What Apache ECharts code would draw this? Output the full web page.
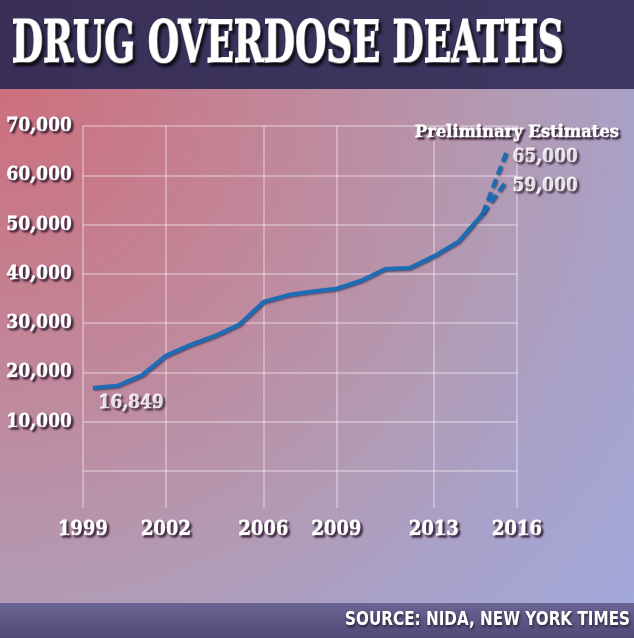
<!DOCTYPE html>
<html>
<head>
<meta charset="utf-8">
<script src="https://cdn.jsdelivr.net/npm/echarts@6/dist/echarts.min.js"></script>
<style>
  html, body { margin: 0; padding: 0; }
  #chart { width: 634px; height: 638px; }
</style>
</head>
<body>
<div id="chart"></div>
<script>
// 数据：年度药物过量死亡人数
const years = [1999, 2000, 2001, 2002, 2003, 2004, 2005, 2006, 2007, 2008, 2009, 2010, 2011, 2012, 2013, 2014, 2015];
const deaths = [16849, 17300, 19400, 23400, 25600, 27400, 29700, 34300, 35700, 36400, 37000, 38600, 41000, 41200, 43600, 46500, 52200];
// 2016 初步估计（上限 / 下限）
const estimateYear = 2016;
const estimates = [65000, 59000];
// 坐标轴刻度
const yearTicks = [1999, 2002, 2006, 2009, 2013, 2016];
const yMax = 70000;
const yStep = 10000;

const title = 'DRUG OVERDOSE DEATHS';
const note = 'Preliminary Estimates';
const source = 'SOURCE: NIDA, NEW YORK TIMES';

// 折线两端与边框留一点空
const X_MIN = 1998.59;
const X_MAX = 2016.41;
const tickValues = yearTicks.map((y, i) => (i === 0 ? X_MIN : i === yearTicks.length - 1 ? X_MAX : y));

const serif = '"DejaVu Serif Condensed", "DejaVu Serif", serif';
const sans = '"DejaVu Sans Condensed", "DejaVu Sans", sans-serif';
// 白字加粗描边 + 深色投影
const shadow = {
  textBorderColor: '#fff',
  textBorderWidth: 0.8,
  textShadowColor: 'rgba(40,15,40,0.85)',
  textShadowBlur: 2,
  textShadowOffsetX: 2,
  textShadowOffsetY: 2
};
const gridColor = 'rgba(255,255,255,0.32)';
const lineColor = '#1d6db5';
const lineShadow = { shadowColor: 'rgba(20,20,60,0.6)', shadowBlur: 2, shadowOffsetX: 1, shadowOffsetY: 1 };

// 用画布量文字宽度，算横向压缩比例
function fitScale(text, font, width) {
  const ctx = document.createElement('canvas').getContext('2d');
  ctx.font = font;
  return width / ctx.measureText(text).width;
}

const chart = echarts.init(document.getElementById('chart'), null, { renderer: 'canvas' });

const mainLine = years.map((y, i) => [y, deaths[i]]);
const last = mainLine[mainLine.length - 1];

const titleFont = 'bold 58px ' + serif;
const noteFont = 'bold 17px ' + serif;
const sourceFont = 'bold 19px ' + sans;

chart.setOption({
  animation: false,
  grid: { left: 83, right: 117, top: 126, bottom: 167 },
  xAxis: {
    type: 'value',
    min: X_MIN,
    max: X_MAX,
    axisLine: { show: false },
    axisTick: {
      show: true,
      customValues: tickValues,
      length: 37,
      lineStyle: { color: gridColor, width: 2 }
    },
    splitLine: { show: true, lineStyle: { color: gridColor, width: 2 } },
    axisLabel: {
      customValues: tickValues,
      formatter: v => String(Math.round(v)),
      margin: 49,
      color: '#fff',
      fontFamily: serif,
      fontWeight: 'bold',
      fontSize: 20,
      ...shadow
    }
  },
  yAxis: {
    type: 'value',
    min: 0,
    max: yMax,
    interval: yStep,
    axisLine: { show: false },
    axisTick: { show: false },
    splitLine: { show: true, lineStyle: { color: gridColor, width: 2 } },
    axisLabel: {
      formatter: v => (v === 0 ? '' : v.toLocaleString('en-US')),
      margin: 11,
      color: '#fff',
      fontFamily: serif,
      fontWeight: 'bold',
      fontSize: 19,
      ...shadow
    }
  },
  series: [
    {
      type: 'line',
      data: mainLine,
      symbol: 'none',
      z: 5,
      lineStyle: { color: lineColor, width: 4, ...lineShadow }
    },
    ...estimates.map(v => ({
      type: 'line',
      data: [last, [estimateYear, v]],
      symbol: 'none',
      z: 5,
      lineStyle: { color: lineColor, width: 4, type: [9, 5], ...lineShadow }
    })),
    {
      // 起点数值标注
      type: 'scatter',
      data: [mainLine[0]],
      symbolSize: 1,
      itemStyle: { color: 'rgba(0,0,0,0)' },
      z: 6,
      label: {
        show: true,
        position: [6, 6],
        align: 'left',
        verticalAlign: 'top',
        formatter: p => p.value[1].toLocaleString('en-US'),
        color: '#fff', fontFamily: serif, fontWeight: 'bold', fontSize: 19,
        ...shadow
      }
    },
    {
      // 估计值标注
      type: 'scatter',
      data: estimates.map(v => [estimateYear, v]),
      symbolSize: 1,
      itemStyle: { color: 'rgba(0,0,0,0)' },
      z: 6,
      label: {
        show: true,
        position: 'right',
        distance: 5,
        offset: [0, 6],
        formatter: p => p.value[1].toLocaleString('en-US'),
        color: '#fff', fontFamily: serif, fontWeight: 'bold', fontSize: 19,
        ...shadow
      }
    }
  ],
  graphic: [
    {
      type: 'rect', z: -20, silent: true,
      shape: { x: 0, y: 0, width: 634, height: 638 },
      style: {
        fill: {
          type: 'radial', x: 0, y: 89, r: 816, global: true,
          colorStops: [
            { offset: 0, color: '#cd6f7c' },
            { offset: 0.35, color: '#c1879a' },
            { offset: 0.63, color: '#b29bb5' },
            { offset: 0.78, color: '#a9a1c8' },
            { offset: 1, color: '#a2a8da' }
          ]
        }
      }
    },
    {
      type: 'rect', z: -19, silent: true,
      shape: { x: 0, y: 0, width: 634, height: 89 },
      style: {
        fill: {
          type: 'linear', x: 0, y: 0, x2: 1, y2: 0,
          colorStops: [{ offset: 0, color: '#392f57' }, { offset: 1, color: '#3f3762' }]
        }
      }
    },
    {
      type: 'rect', z: -19, silent: true,
      shape: { x: 0, y: 603, width: 634, height: 35 },
      style: {
        fill: {
          type: 'linear', x: 0, y: 0, x2: 0, y2: 1,
          colorStops: [{ offset: 0, color: '#6a6593' }, { offset: 1, color: '#4f4977' }]
        }
      }
    },
    {
      type: 'text', z: 10, silent: true,
      x: 12, y: 47,
      scaleX: fitScale(title, titleFont, 552),
      style: {
        text: title, fill: '#fff', font: titleFont,
        verticalAlign: 'middle',
        stroke: '#fff', lineWidth: 2,
        textShadowColor: 'rgba(0,0,0,0.75)', textShadowBlur: 3, textShadowOffsetX: 2, textShadowOffsetY: 3
      }
    },
    {
      type: 'text', z: 10, silent: true,
      x: 415, y: 133,
      scaleX: fitScale(note, noteFont, 204),
      style: {
        text: note, fill: '#fff', font: noteFont,
        verticalAlign: 'middle',
        stroke: '#fff', lineWidth: 0.8,
        textShadowColor: 'rgba(40,15,40,0.85)', textShadowBlur: 2, textShadowOffsetX: 2, textShadowOffsetY: 2
      }
    },
    {
      type: 'text', z: 10, silent: true,
      x: 345, y: 620,
      scaleX: fitScale(source, sourceFont, 285),
      style: {
        text: source, fill: '#fff', font: sourceFont,
        verticalAlign: 'middle',
        textShadowColor: 'rgba(0,0,0,0.6)', textShadowBlur: 3, textShadowOffsetX: 1, textShadowOffsetY: 2
      }
    }
  ]
});
</script>
</body>
</html>
